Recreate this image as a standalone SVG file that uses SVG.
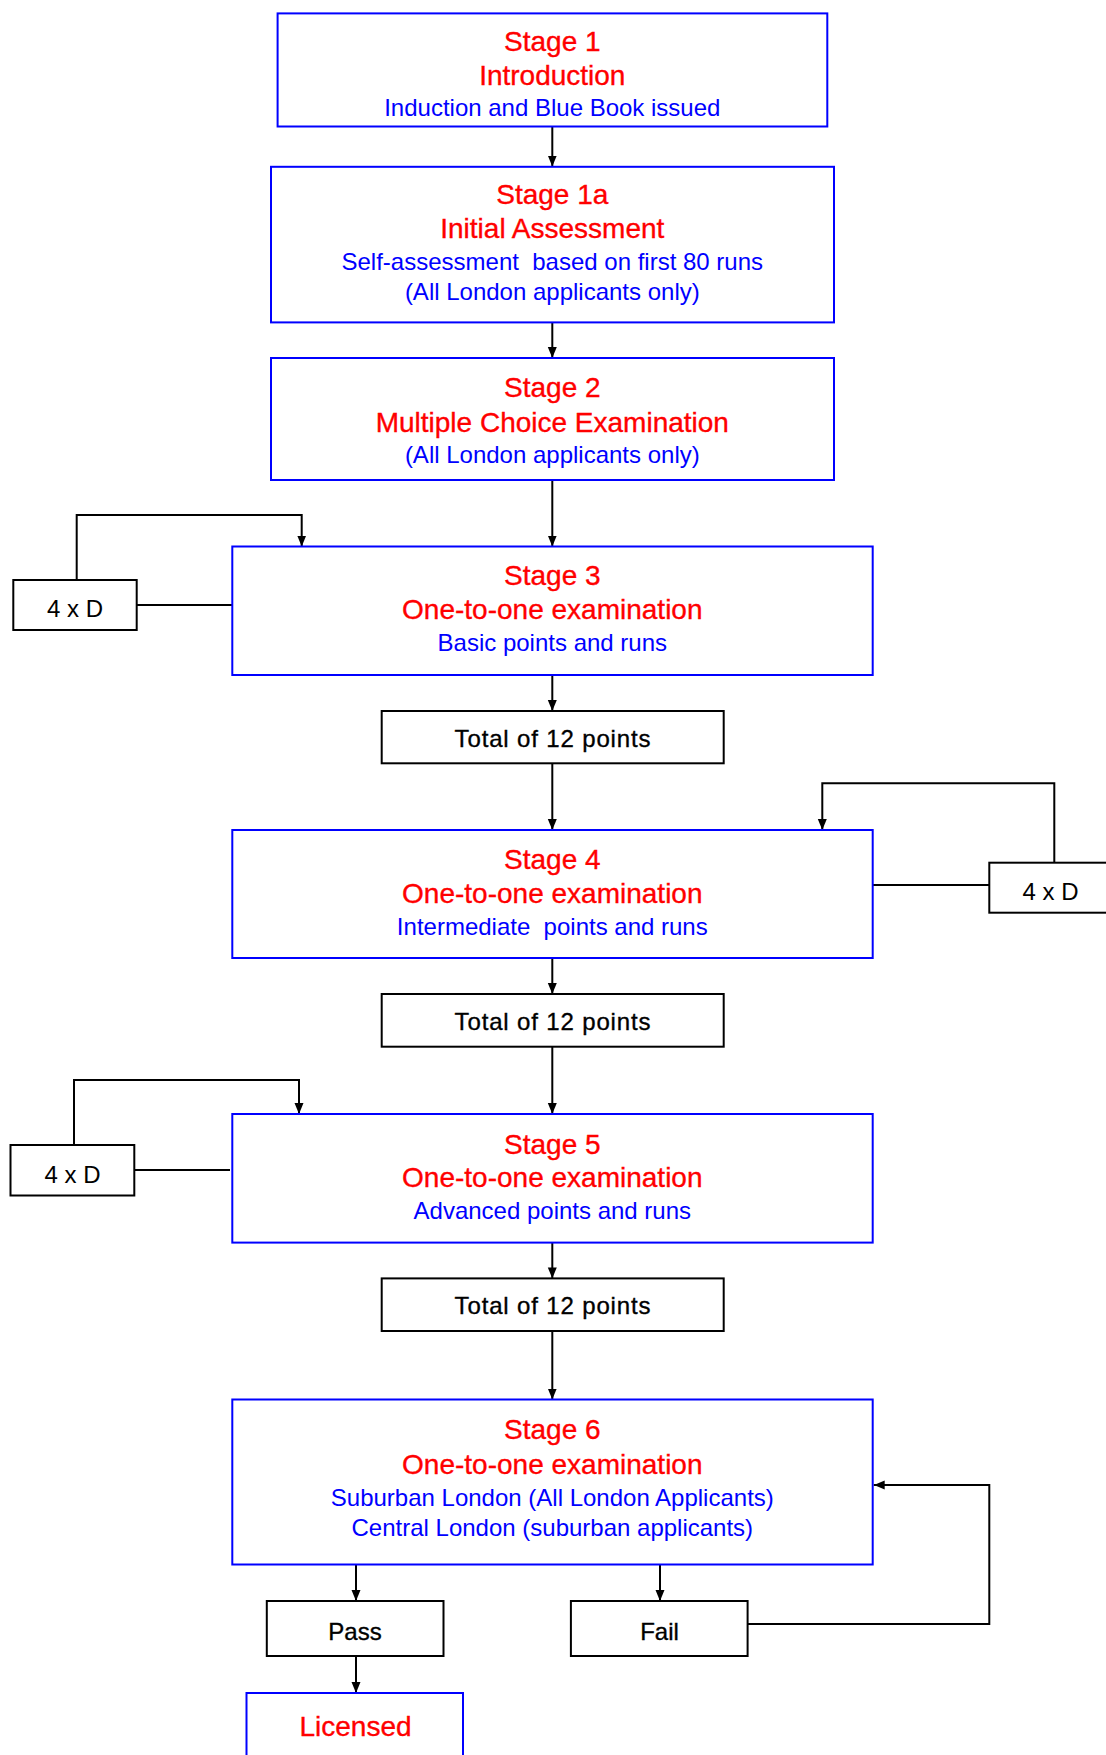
<svg xmlns="http://www.w3.org/2000/svg" width="1106" height="1755" viewBox="0 0 1106 1755">
<defs>
<marker id="ah" markerUnits="userSpaceOnUse" markerWidth="11" markerHeight="11" refX="11" refY="5.5" orient="auto">
<path d="M0,1 L11,5.5 L0,10 z" fill="#000"/>
</marker>
<style>
.stage{fill:#fff;stroke:#0000ff;stroke-width:2}
.bbox{fill:#fff;stroke:#000;stroke-width:2}
text{font-family:"Liberation Sans",Arial,sans-serif;text-anchor:middle}
.red{fill:#ff0000;font-size:28px;stroke:#ff0000;stroke-width:0.35}
.blue{fill:#0000ff;font-size:24px}
.blk{fill:#000;font-size:24px;stroke:#000;stroke-width:0.35}
.tot{letter-spacing:0.85px}
.lt{fill:#000;font-size:24px}
.con{fill:none;stroke:#000;stroke-width:2}
.arr{fill:none;stroke:#000;stroke-width:2;marker-end:url(#ah)}
</style>
</defs>
<rect width="1106" height="1755" fill="#fff"/>

<g id="connectors">
<line class="arr" x1="552.3" y1="126.5" x2="552.3" y2="166.5"/>
<line class="arr" x1="552.3" y1="322.4" x2="552.3" y2="358"/>
<line class="arr" x1="552.3" y1="480" x2="552.3" y2="546.5"/>
<line class="arr" x1="552.3" y1="675" x2="552.3" y2="711"/>
<line class="arr" x1="552.3" y1="763.3" x2="552.3" y2="830"/>
<line class="arr" x1="552.3" y1="958" x2="552.3" y2="994"/>
<line class="arr" x1="552.3" y1="1047" x2="552.3" y2="1114"/>
<line class="arr" x1="552.3" y1="1242.6" x2="552.3" y2="1278.4"/>
<line class="arr" x1="552.3" y1="1331" x2="552.3" y2="1399.5"/>
<line class="arr" x1="356" y1="1564.5" x2="356" y2="1601"/>
<line class="arr" x1="660" y1="1564.5" x2="660" y2="1601"/>
<line class="arr" x1="356" y1="1656" x2="356" y2="1693"/>
<path class="arr" d="M76.7,580 V515 H301.7 V546.5"/>
<path class="con" d="M136.7,605 H232.3"/>
<path class="arr" d="M1054.3,862.7 V783.3 H822.3 V830"/>
<path class="con" d="M872.7,885 H989.3"/>
<path class="arr" d="M74,1145 V1080 H299 V1114"/>
<path class="con" d="M134.3,1170 H230"/>
<path class="arr" d="M747.6,1624 H989.3 V1485 H873.7"/>
</g>

<g id="stage1">
<rect class="stage" x="277.6" y="13.4" width="549.7" height="113.1"/>
<text class="red" x="552.3" y="51">Stage 1</text>
<text class="red" x="552.3" y="85">Introduction</text>
<text class="blue" x="552.3" y="116">Induction and Blue Book issued</text>
</g>

<g id="stage1a">
<rect class="stage" x="271" y="166.8" width="563" height="155.6"/>
<text class="red" x="552.3" y="204.3">Stage 1a</text>
<text class="red" x="552.3" y="238">Initial Assessment</text>
<text class="blue" x="552.3" y="270" xml:space="preserve">Self-assessment  based on first 80 runs</text>
<text class="blue" x="552.3" y="300">(All London applicants only)</text>
</g>

<g id="stage2">
<rect class="stage" x="271" y="358" width="563" height="122"/>
<text class="red" x="552.3" y="397">Stage 2</text>
<text class="red" x="552.3" y="431.5">Multiple Choice Examination</text>
<text class="blue" x="552.3" y="462.5">(All London applicants only)</text>
</g>

<g id="stage3">
<rect class="stage" x="232.3" y="546.5" width="640.4" height="128.5"/>
<text class="red" x="552.3" y="585">Stage 3</text>
<text class="red" x="552.3" y="618.5">One-to-one examination</text>
<text class="blue" x="552.3" y="650.5">Basic points and runs</text>
</g>

<g id="d1">
<rect class="bbox" x="13.3" y="580" width="123.4" height="50"/>
<text class="lt" x="75" y="617.3">4 x D</text>
</g>

<g id="total1">
<rect class="bbox" x="381.7" y="711" width="342" height="52.3"/>
<text class="blk tot" x="553" y="746.7">Total of 12 points</text>
</g>

<g id="stage4">
<rect class="stage" x="232.3" y="830" width="640.4" height="128"/>
<text class="red" x="552.3" y="869">Stage 4</text>
<text class="red" x="552.3" y="903">One-to-one examination</text>
<text class="blue" x="552.3" y="935" xml:space="preserve">Intermediate  points and runs</text>
</g>

<g id="d2">
<rect class="bbox" x="989.3" y="862.7" width="124" height="50"/>
<text class="lt" x="1050.5" y="900">4 x D</text>
</g>

<g id="total2">
<rect class="bbox" x="381.7" y="994" width="342" height="52.7"/>
<text class="blk tot" x="553" y="1029.7">Total of 12 points</text>
</g>

<g id="stage5">
<rect class="stage" x="232.3" y="1114" width="640.4" height="128.6"/>
<text class="red" x="552.3" y="1153.5">Stage 5</text>
<text class="red" x="552.3" y="1187">One-to-one examination</text>
<text class="blue" x="552.3" y="1219">Advanced points and runs</text>
</g>

<g id="d3">
<rect class="bbox" x="10.5" y="1145" width="123.8" height="50.5"/>
<text class="lt" x="72.5" y="1182.5">4 x D</text>
</g>

<g id="total3">
<rect class="bbox" x="381.7" y="1278.4" width="342" height="52.6"/>
<text class="blk tot" x="553" y="1314">Total of 12 points</text>
</g>

<g id="stage6">
<rect class="stage" x="232.3" y="1399.5" width="640.4" height="165"/>
<text class="red" x="552.3" y="1439">Stage 6</text>
<text class="red" x="552.3" y="1473.7">One-to-one examination</text>
<text class="blue" x="552.3" y="1506">Suburban London (All London Applicants)</text>
<text class="blue" x="552.3" y="1536">Central London (suburban applicants)</text>
</g>

<g id="pass">
<rect class="bbox" x="266.8" y="1601" width="176.7" height="55"/>
<text class="blk" x="355" y="1640">Pass</text>
</g>

<g id="fail">
<rect class="bbox" x="570.9" y="1601" width="176.7" height="55"/>
<text class="blk" x="659.5" y="1640">Fail</text>
</g>

<g id="licensed">
<rect class="stage" x="246.5" y="1693" width="216.5" height="72"/>
<text class="red" x="355.5" y="1736">Licensed</text>
</g>
</svg>
